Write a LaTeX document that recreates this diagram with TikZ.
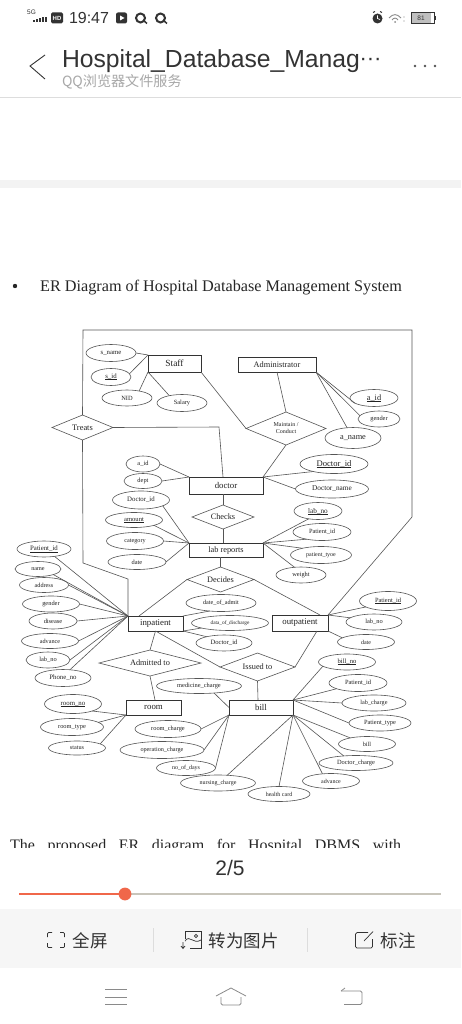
\documentclass[tikz,border=0pt]{standalone}
\usepackage{fontspec}
\setmainfont{Liberation Serif}
\newfontfamily\uisans{Liberation Sans}
\newfontfamily\cjk{Noto Sans CJK SC}
\usetikzlibrary{shapes.geometric}
\definecolor{linec}{HTML}{555555}
\definecolor{boxc}{HTML}{333333}
\definecolor{txtc}{HTML}{222222}
\definecolor{uidark}{HTML}{333333}
\definecolor{uigray}{HTML}{A8A8A8}
\definecolor{uiline}{HTML}{DDDDDD}
\definecolor{uiband}{HTML}{F3F3F3}
\definecolor{uibar}{HTML}{F6F6F6}
\definecolor{uired}{HTML}{F0674A}
\definecolor{uitrack}{HTML}{C8C5BB}
\definecolor{uiicon}{HTML}{8A8A8A}
\tikzset{
  conn/.style={draw=linec,line width=0.6pt},
  attr/.style={ellipse,draw=linec,line width=0.6pt,inner sep=0pt,outer sep=0pt,text=txtc},
  entity/.style={rectangle,draw=boxc,line width=0.7pt,inner sep=0pt,outer sep=0pt,text=txtc},
  rel/.style={diamond,draw=linec,line width=0.6pt,inner sep=0pt,outer sep=0pt,text=txtc,align=center},
  uitext/.style={inner sep=0pt,outer sep=0pt,text=uidark},
  icon/.style={draw=uidark,line width=0.7pt},
  navicon/.style={draw=uiicon,line width=0.8pt}
}
\newcommand\fs[1]{\fontsize{#1}{#1}\selectfont}
\newcommand\undr[1]{\setbox0\hbox{#1}\rlap{\rule[-0.13em]{\wd0}{0.045em}}\box0 }
\newcommand\at[7][6.8]{\node[attr,minimum width=#5pt,minimum height=#6pt] (#2) at (#3,#4) {};\node[inner sep=0pt,text=txtc,font=\fs{#1}] (#2t) at (#2) {#7};}
\newcommand\ent[7][8.8]{\node[entity,minimum width=#6pt,minimum height=#7pt,font=\fs{#1}] (#2) at (#4,#5) {#3};}
\newcommand\relat[7][8.3]{\node[rel,minimum width=#6pt,minimum height=#7pt] (#2) at (#4,#5) {};\node[inner sep=0pt,text=txtc,font=\fs{#1},align=center] (#2t) at (#2) {#3};}
\begin{document}
\begin{tikzpicture}[x=1pt,y=-1pt]
\useasboundingbox (0,0) rectangle (461,1024);
\fill[white] (0,0) rectangle (461,1024);
% ---- page band
\path[fill=uiband] (0,180) rectangle (461,188);
% ---- document text
\fill[black!85] (15,286) circle (2.2);
\node[anchor=base west,inner sep=0pt,text=black!85,font=\fs{16.2}] (heading) at (40,291) {ER Diagram of Hospital Database Management System};
% ---- entities
\ent[9.4]{staff}{Staff}{174.5}{363.5}{53}{17}
\ent[8.3]{admin}{Administrator}{277}{364.5}{78}{15}
\ent{doctor}{doctor}{226}{485.5}{74}{17}
\ent[8.3]{lab}{lab reports}{226}{550}{74}{14}
\ent{inpat}{inpatient}{155.5}{623.5}{55}{15}
\ent{outpat}{outpatient}{300}{623}{56}{16}
\ent{room}{room}{153.5}{707.5}{55}{15}
\ent{bill}{bill}{261}{707.5}{64}{15}
% ---- relationships
\relat[8.4]{treats}{Treats}{82.5}{427.5}{61}{25}
\relat[6]{maintain}{Maintain /\\[1pt]Conduct}{286}{428.5}{80}{33}
\relat{checks}{Checks}{223}{517}{62}{24}
\relat{decides}{Decides}{220.5}{579.5}{67}{25}
\relat{admitted}{Admitted to}{150}{663}{102}{26}
\relat{issued}{Issued to}{257.5}{667}{75}{28}
% ---- attributes
\at{snm}{111}{353}{50}{17}{s\_name}
\at{sid}{111}{377}{40}{17}{\undr{s\_id}}
\at[6.4]{nid}{127}{398}{50}{16}{NID}
\at[6.4]{sal}{182}{403}{50}{17}{Salary}
\at[8.3]{aid}{374}{398}{48}{17}{\undr{a\_id}}
\at[6.4]{agen}{379}{419}{42}{16}{gender}
\at[8.3]{anm}{353}{438}{56}{21}{a\_name}
\at[6.4]{did}{143}{464}{34}{16}{a\_id}
\at[6.4]{dept}{143}{481}{38}{15}{dept}
\at[8.6]{docid}{334}{464}{68}{19}{\undr{Doctor\_id}}
\at[7.3]{docnm}{332}{489}{73}{18}{Doctor\_name}
\at{ldoc}{141}{500}{57}{18}{Doctor\_id}
\at[6.6]{lamt}{134}{520}{57}{15}{\undr{amount}}
\at[6.2]{lcat}{135}{541}{57}{17}{category}
\at[6.4]{ldat}{137}{562}{58}{15}{date}
\at[7.2]{lno}{318}{511}{48}{17}{\undr{lab\_no}}
\at[6.4]{lpid}{322}{532}{58}{17}{Patient\_id}
\at[6]{ltyp}{321}{555}{61}{17}{patient\_tyoe}
\at[6.4]{lwei}{301}{575}{50}{16}{weight}
\at{ipid}{44}{549}{54}{16}{\undr{Patient\_id}}
\at[6.2]{inam}{38}{569}{46}{15}{name}
\at[6.2]{iadr}{44}{585}{49}{15}{address}
\at[6.4]{igen}{51}{604}{57}{16}{gender}
\at[6.4]{idis}{53}{621}{48}{16}{disease}
\at[6.2]{iadv}{50}{641}{57}{15}{advance}
\at[6.4]{ilab}{48}{660}{44}{16}{lab\_no}
\at{ipho}{63}{678}{56}{17}{Phone\_no}
\at[6.2]{mad}{221}{603}{70}{17}{date\_of\_admit}
\at[5.3]{mdi}{230}{623}{77}{15}{data\_of\_discharge}
\at[6.6]{mdo}{224}{643}{56}{16}{Doctor\_id}
\at[6.4]{opid}{388}{601}{57}{19}{\undr{Patient\_id}}
\at[6.4]{olab}{374}{622}{56}{16}{lab\_no}
\at[6]{odat}{366}{642}{57}{15}{date}
\at{rno}{73}{704}{57}{19}{\undr{room\_no}}
\at[6.4]{rtyp}{72}{727}{63}{17}{room\_type}
\at[6.2]{rsta}{77}{748}{57}{14}{status}
\at[6.4]{bmed}{199}{686}{85}{15}{medicine\_charge}
\at[6.4]{brc}{168}{729}{66}{17}{room\_charge}
\at[6.2]{bop}{162}{750}{84}{17}{operation\_charge}
\at[6]{bday}{186}{768}{59}{15}{no\_of\_days}
\at[6]{bnur}{218}{783}{75}{16}{nursing\_charge}
\at[6]{bhc}{279}{794}{62}{15}{health card}
\at[6]{badv}{331}{781}{57}{15}{advance}
\at[6.4]{bdoc}{356}{763}{74}{15}{Doctor\_charge}
\at[6.2]{bbil}{367}{744}{57}{15}{bill}
\at[6.4]{btyp}{380}{723}{62}{16}{Patient\_type}
\at[6.2]{blab}{374}{703}{64}{16}{lab\_charge}
\at[6.4]{bpid}{358}{683}{58}{17}{Patient\_id}
\at[6.6]{bno}{347}{662}{57}{16}{\undr{bill\_no}}
% ---- bends and attachment points of the long connectors
\coordinate (frameTL) at (83,330);
\coordinate (frameTR) at (412,330);
\coordinate (frameBR) at (412,517);
\coordinate (leftA) at (83,563);
\coordinate (leftB) at (128,579);
\coordinate (treatBend) at (219,427);
\coordinate (inTop) at (139,616);
\coordinate (outTop) at (320,615);
\coordinate (outBot) at (317,631);
\coordinate (billTop) at (258,700);
\coordinate (roomTop) at (155,700);
% ---- long connectors
\draw[conn] (treats.north) -- (frameTL) -- (frameTR) -- (frameBR) -- (outpat.north east);
\draw[conn] (treats.south) -- (leftA) -- (leftB) -- (inpat.north west);
\draw[conn] (treats.east) -- (treatBend) -- (doctor.north -| checks.north);
\draw[conn] (staff.south east) -- (maintain.west);
\draw[conn] (admin.south) -- (maintain.north);
\draw[conn] (maintain.south) -- (doctor.north east);
\draw[conn] (doctor.south -| checks.north) -- (checks.north);
\draw[conn] (checks.south) -- (lab.north -| checks.south);
\draw[conn] (lab.south -| decides.north) -- (decides.north);
\draw[conn] (decides.west) -- (inTop);
\draw[conn] (decides.east) -- (outTop);
\draw[conn] (inpat.south) -- (admitted.north);
\draw[conn] (admitted.south) -- (roomTop);
\draw[conn] (inpat.south) -- (issued.west);
\draw[conn] (outBot) -- (issued.east);
\draw[conn] (issued.south) -- (billTop);
% ---- attribute connectors
\draw[conn] (snm.east) -- (staff.north west);
\draw[conn] (sid.10) -- (staff.north west);
\draw[conn] (nid.30) -- (staff.south west);
\draw[conn] (sal.150) -- (staff.south west);
\draw[conn] (aid.195) -- (admin.south east);
\draw[conn] (agen.170) -- (admin.south east);
\draw[conn] (anm.120) -- (admin.south east);
\draw[conn] (did.east) -- (doctor.north west);
\draw[conn] (dept.east) -- (doctor.north west);
\draw[conn] (docid.200) -- (doctor.north east);
\draw[conn] (docnm.west) -- (doctor.north east);
\draw[conn] (ldoc.-15) -- (lab.north west);
\draw[conn] (lamt.-15) -- (lab.north west);
\draw[conn] (lcat.east) -- (lab.north west);
\draw[conn] (ldat.east) -- (lab.north west);
\draw[conn] (lno.220) -- (lab.north east);
\draw[conn] (lpid.205) -- (lab.north east);
\draw[conn] (ltyp.160) -- (lab.north east);
\draw[conn] (lwei.130) -- (lab.north east);
\draw[conn] (ipid.-35) -- (inpat.north west);
\draw[conn] (inam.-20) -- (inpat.north west);
\draw[conn] (iadr.east) -- (inpat.north west);
\draw[conn] (igen.east) -- (inpat.north west);
\draw[conn] (idis.east) -- (inpat.north west);
\draw[conn] (iadv.east) -- (inpat.north west);
\draw[conn] (ilab.east) -- (inpat.north west);
\draw[conn] (ipho.50) -- (inpat.north west);
\draw[conn] (mad.215) -- (inpat.north east);
\draw[conn] (mdi.190) -- (inpat.south east);
\draw[conn] (mdo.160) -- (inpat.south east);
\draw[conn] (opid.195) -- (outpat.north east);
\draw[conn] (olab.170) -- (outpat.north east);
\draw[conn] (odat.170) -- (outpat.south east);
\draw[conn] (rno.-20) -- (room.south west);
\draw[conn] (rtyp.10) -- (room.south west);
\draw[conn] (rsta.10) -- (room.south west);
\draw[conn] (bmed.-25) -- (bill.west);
\draw[conn] (brc.east) -- (bill.south west);
\draw[conn] (bop.east) -- (bill.south west);
\draw[conn] (bday.east) -- (bill.south west);
\draw[conn] (bno.190) -- (bill.north east);
\draw[conn] (bpid.195) -- (bill.north east);
\draw[conn] (blab.west) -- (bill.north east);
\draw[conn] (btyp.west) -- (bill.north east);
\draw[conn] (bbil.160) -- (bill.south east);
\draw[conn] (bdoc.150) -- (bill.south east);
\draw[conn] (badv.140) -- (bill.south east);
\draw[conn] (bhc.north) -- (bill.south east);
\draw[conn] (bnur.40) -- (bill.south east);
% ---- clipped following paragraph
\node[anchor=base west,inner sep=0pt,text=black!85,font=\fs{16}] (para) at (10,850) {\makebox[391pt][s]{The\hfill proposed\hfill ER\hfill diagram\hfill for\hfill Hospital\hfill DBMS\hfill with}};
\fill[white] (0,847.5) rectangle (461,909);
% ---- status bar
\node[uitext,font=\uisans\fs{6.5}] (sfive) at (31.5,12.5) {5G};
\foreach \x/\h in {32.5/2,35.5/3,38.5/4,41.5/5,44.5/5} \fill[uidark] (\x,22.5) rectangle ++(2,-\h);
\fill[uidark,rounded corners=1.5pt] (51,12.5) rectangle (63,23.5);
\node[uitext,text=white,font=\uisans\bfseries\fs{6}] (hd) at (57,18) {HD};
\node[uitext,anchor=west,font=\uisans\fs{16}] (clock) at (69,18) {19:47};
\fill[uidark,rounded corners=2pt] (116,12.5) rectangle (127,23.5);
\fill[white] (120,15.5) -- (124.5,18) -- (120,20.5) -- cycle;
\draw[uidark,line width=2pt] (140.5,18) circle (4.5);
\draw[uidark,line width=1.5pt] (143,20) -- (147,23.5);
\draw[uidark,line width=2pt] (160.5,18) circle (4.5);
\draw[uidark,line width=1.5pt] (163,20) -- (167,23.5);
\fill[uidark] (377.5,18.5) circle (5);
\draw[white,line width=0.7pt] (377.5,15.5) -- (377.5,18.5) -- (380,19.5);
\draw[uidark,line width=1pt] (373,12.5) -- (375,11.5) (380,11.5) -- (382,12.5);
\draw[uiicon,line width=0.9pt] (389,18) .. controls (393,13.5) and (397,13.5) .. (401,18);
\draw[uiicon,line width=0.9pt] (392,20) .. controls (394,17.5) and (396,17.5) .. (398,20);
\fill[uiicon] (395,22) circle (1);
\fill[uiicon] (404,17) circle (0.7) (404,21) circle (0.7);
\fill[black!25] (411.5,12.5) rectangle (431,23);
\draw[uidark,line width=0.6pt] (411,12) rectangle (434,23.5);
\fill[uidark] (434,16) rectangle (435.5,20);
\node[uitext,font=\uisans\fs{6.5}] (batt) at (421,18) {81};
% ---- title bar
\draw[draw=uidark,line width=0.9pt] (45,55) -- (30,66) -- (45,79);
\node[uitext,anchor=base west,font=\uisans\fs{24.7}] (title) at (62,67.5) {Hospital\_Database\_Manag};
\node[uitext,anchor=base west,font=\uisans\fs{22}] (tdots) at (359.5,66) {···};
\node[uitext,anchor=base west,text=uigray,font=\cjk\fs{14.1}] (subt) at (62,87) {QQ浏览器文件服务};
\fill[uidark!85] (415,66) circle (1.4) (425,66) circle (1.4) (435,66) circle (1.4);
\draw[uiline,line width=0.8pt] (0,97.5) -- (461,97.5);
% ---- pager
\node[uitext,font=\uisans\fs{21}] (pager) at (230,868) {2/5};
\draw[uitrack,line width=2pt] (125,894) -- (441,894);
\draw[uired,line width=2pt] (19,894) -- (125,894);
\fill[uired] (125,894) circle (6.4);
% ---- toolbar
\fill[uibar] (0,909) rectangle (461,968);
\draw[uiline,line width=0.7pt] (153.5,928) -- (153.5,952);
\draw[uiline,line width=0.7pt] (307.5,928) -- (307.5,952);
\draw[icon,rounded corners=1pt] (47.5,937) -- (47.5,932.5) -- (52,932.5) (60,932.5) -- (64.5,932.5) -- (64.5,937) (64.5,943) -- (64.5,947.5) -- (60,947.5) (52,947.5) -- (47.5,947.5) -- (47.5,943);
\node[uitext,anchor=west,font=\cjk\fs{17.5}] (full) at (72.5,940.5) {全屏};
\draw[icon] (185,939) -- (185,931.5) -- (201.5,931.5) -- (201.5,948) -- (190,948);
\draw[icon] (185,941) .. controls (190,934) and (193,945) .. (201,940);
\draw[icon] (196,936) circle (1.6);
\draw[icon] (183,942) -- (183,948) (181,946) -- (183,948.5) -- (185,946);
\node[uitext,anchor=west,font=\cjk\fs{17.5}] (toimg) at (208.5,940.5) {转为图片};
\draw[icon,rounded corners=1.5pt] (368,932.5) -- (355.5,932.5) -- (355.5,948) -- (372.5,948) -- (372.5,939);
\draw[icon] (364,941) -- (373,931.5);
\node[uitext,anchor=west,font=\cjk\fs{17.5}] (mark) at (380.5,940.5) {标注};
% ---- navigation bar
\draw[navicon] (105,989) -- (127,989) (105,997) -- (127,997) (105,1004.5) -- (127,1004.5);
\draw[navicon] (216,996) -- (231,988) -- (246,996);
\draw[navicon,rounded corners=1.5pt] (221,997) -- (221,1005) -- (241,1005) -- (241,997);
\draw[navicon,rounded corners=1.5pt] (341,991) -- (362,991) -- (362,1004.5) -- (344,1004.5);
\draw[navicon] (345,988) -- (341,991);
\end{tikzpicture}
\end{document}
